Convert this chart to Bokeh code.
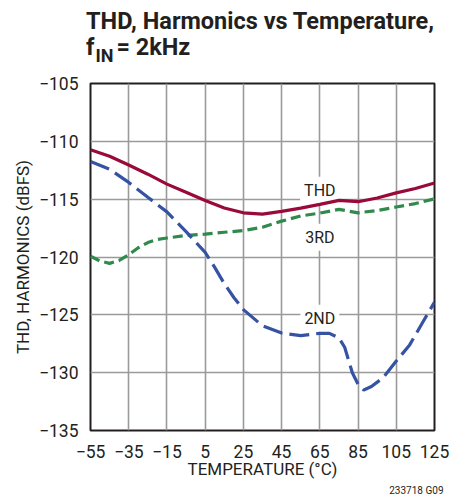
from bokeh.plotting import figure
from bokeh.models import Range1d, FixedTicker, Label, Div, Title, Spacer
from bokeh.layouts import column, row
from bokeh.embed import file_html
from bokeh.resources import INLINE

# ---- data ----
thd_t = [-55, -45, -35, -25, -15, -5, 5, 15, 25, 35, 45, 55, 65, 75, 85, 95, 105, 115, 125]
thd_v = [-110.72, -111.29, -112.05, -112.84, -113.7, -114.4, -115.12, -115.76, -116.18, -116.3,
         -116.05, -115.78, -115.45, -115.1, -115.22, -114.9, -114.46, -114.08, -113.6]

h3_t = [-55, -50, -45, -40, -35, -30, -25, -20, -15, -5, 5, 15, 25, 35, 45, 55, 65, 75, 85, 95, 105, 115, 125]
h3_v = [-119.93, -120.35, -120.55, -120.3, -119.8, -119.2, -118.75, -118.48, -118.36, -118.14, -118.03,
        -117.86, -117.72, -117.43, -116.9, -116.45, -116.2, -115.88, -116.18, -115.98, -115.68, -115.38, -114.97]

h2_t = [-55, -45, -35, -25, -15, -5, 5, 10, 15, 20, 25, 35, 45, 55, 65, 70, 75, 78, 80, 82, 85, 88, 92, 98, 105, 112, 119, 125]
h2_v = [-111.75, -112.42, -113.55, -114.83, -116.1, -117.8, -119.6, -120.9, -122.3, -123.5, -124.55, -125.95,
        -126.58, -126.8, -126.6, -126.6, -127.0, -127.8, -128.9, -130.0, -131.0, -131.5, -131.2, -130.45,
        -129.0, -127.6, -125.6, -123.9]

x_ticks = [-55, -35, -15, 5, 25, 45, 65, 85, 105, 125]
y_ticks = [-135, -130, -125, -120, -115, -110, -105]

curve_labels = ["THD", "3RD", "2ND"]
curve_label_y = [-114.22, -118.3, -125.3]

FONT = "Roboto"
TXT = "#231f20"

title_html = (
    '<div style="font-family:Roboto;font-weight:bold;font-size:23.5px;line-height:26px;'
    'color:#231f20;padding-left:81px;padding-top:3px;white-space:nowrap;">'
    'THD, Harmonics vs Temperature,<br>'
    'f<span style="font-size:18px;position:relative;top:7px;margin-left:1px;margin-right:3px;">IN</span>= 2kHz</div>'
)
div = Div(text=title_html, width=456, height=62)

p = figure(width=447, height=424, x_range=Range1d(-55, 125), y_range=Range1d(-135, -105),
           output_backend="svg", toolbar_location=None,
           min_border_left=10, min_border_right=22, min_border_top=11, min_border_bottom=60)
p.background_fill_color = "white"
p.border_fill_color = "white"
p.outline_line_color = TXT
p.outline_line_width = 2

p.xaxis.ticker = FixedTicker(ticks=x_ticks)
p.yaxis.ticker = FixedTicker(ticks=y_ticks)
p.xaxis.major_label_overrides = {t: str(t).replace("-", "\u2212") for t in x_ticks}
p.yaxis.major_label_overrides = {t: str(t).replace("-", "\u2212") for t in y_ticks}
for ax in (p.xaxis, p.yaxis):
    ax.axis_line_color = None
    ax.major_tick_line_color = None
    ax.minor_tick_line_color = None
    ax.major_label_text_font = FONT
    ax.major_label_text_font_size = "17.5px"
    ax.major_label_text_color = TXT
    ax.axis_label_text_font = FONT
    ax.axis_label_text_font_size = "17px"
    ax.axis_label_text_font_style = "normal"
    ax.axis_label_text_color = TXT
p.xaxis.axis_label = "TEMPERATURE (°C)"
p.yaxis.axis_label = "THD, HARMONICS (dBFS)"
p.xaxis.major_label_standoff = 8
p.yaxis.major_label_standoff = 6
p.xaxis.axis_label_standoff = -2
p.yaxis.axis_label_standoff = 3

p.grid.grid_line_color = "#9a9a9a"
p.grid.grid_line_width = 1.6

for txt, yv in zip(curve_labels, curve_label_y):
    p.add_layout(Label(x=65, y=yv, text=txt, text_align="center", text_baseline="middle",
                       text_font=FONT, text_font_size="16px", text_color=TXT,
                       background_fill_color="white", padding=4, level="underlay"))

p.line(thd_t, thd_v, line_color="#990a38", line_width=3.2)
p.line(h3_t, h3_v, line_color="#2f8a4c", line_width=3.2, line_dash="10 5")
p.line(h2_t, h2_v, line_color="#3552a3", line_width=3.2, line_dash="20 7")

p.add_layout(Title(text="233718 G09", align="right", text_font=FONT, text_font_size="10px",
                   text_font_style="normal", text_color=TXT, standoff=2, offset=-9), "below")

layout = column(div, row(Spacer(width=9, height=424), p))
open("out.html", "w").write(file_html(layout, INLINE))
